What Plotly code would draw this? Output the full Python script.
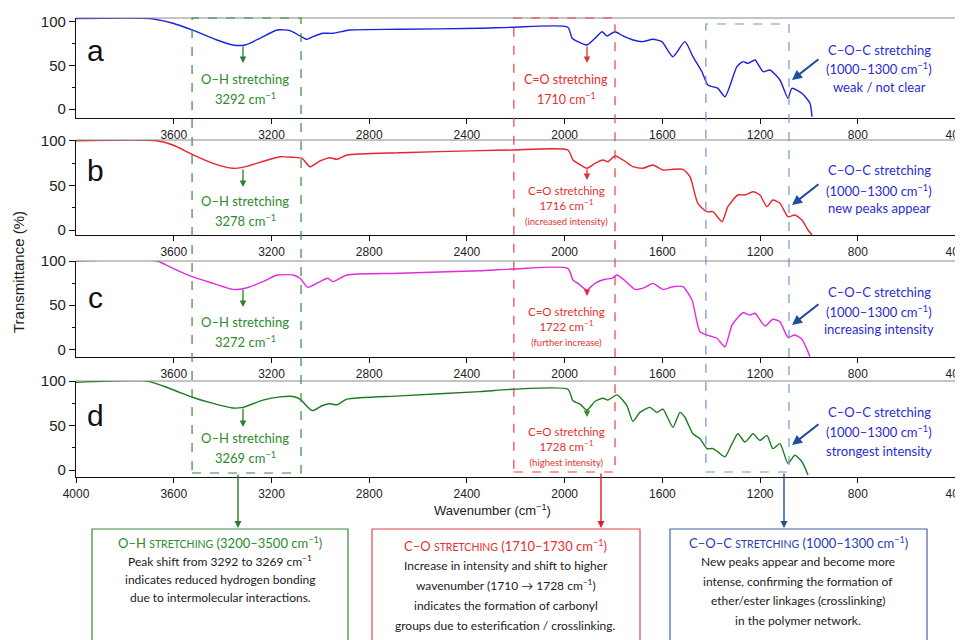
import plotly.graph_objects as go

W, H = 963, 640

# ---------------- data (wavenumber cm-1, transmittance %) ----------------
wn_a = [4000, 3697, 3603, 3525, 3423, 3358, 3308, 3247, 3177, 3124, 3083, 3055, 3030, 2989, 2948,
        2879, 2674, 2347, 2212, 1987, 1970, 1946, 1909, 1876, 1847, 1827, 1794, 1761, 1720, 1680,
        1639, 1602, 1557, 1508, 1475, 1438, 1414, 1373, 1344, 1295, 1270, 1250, 1221, 1188, 1160,
        1119, 1086, 1070, 1029, 996, 988]
t_a = [103.5, 103.5, 98.2, 90.5, 79.0, 73.3, 73.3, 81.0, 90.5, 89.7, 83.6, 79.8, 82.8, 86.7, 86.7,
       90.5, 91.3, 92.4, 93.6, 93.6, 81.3, 77.1, 73.3, 81.0, 88.5, 83.6, 88.5, 83.6, 79.0, 77.1,
       79.8, 77.1, 59.9, 77.1, 59.9, 42.7, 27.5, 23.7, 14.1, 48.5, 54.2, 52.3, 56.1, 42.7, 44.7,
       33.2, 12.3, 23.7, 18.0, 6.5, -8.8]

wn_b = [4000, 3669, 3603, 3525, 3439, 3358, 3317, 3247, 3165, 3112, 3075, 3042, 3001, 2961, 2932,
        2891, 2674, 2347, 2212, 1987, 1966, 1946, 1909, 1876, 1843, 1823, 1794, 1761, 1721, 1680,
        1639, 1598, 1557, 1516, 1487, 1455, 1418, 1393, 1356, 1332, 1291, 1262, 1229, 1201, 1172,
        1148, 1119, 1086, 1058, 1029, 1004, 988]
t_b = [100, 100, 95.2, 84.8, 74.7, 69.1, 70.2, 75.8, 82.1, 81.4, 80.3, 70.9, 77.3, 81.0, 79.2,
       84.0, 86.6, 88.9, 89.6, 89.6, 78.4, 74.7, 69.1, 74.7, 78.4, 76.5, 82.9, 78.4, 70.9, 69.1,
       72.8, 67.2, 68.0, 68.0, 59.7, 29.9, 20.5, 20.5, 9.3, 26.1, 39.2, 39.2, 42.9, 39.2, 26.1,
       33.6, 29.9, 14.9, 16.8, 11.2, 0.0, -5.5]

wn_c = [4000, 3669, 3603, 3525, 3439, 3358, 3308, 3235, 3177, 3112, 3083, 3051, 3010, 2969, 2948,
        2891, 2674, 2347, 2212, 1987, 1966, 1946, 1909, 1876, 1835, 1806, 1786, 1753, 1712, 1671,
        1639, 1598, 1557, 1516, 1479, 1446, 1405, 1377, 1344, 1315, 1270, 1242, 1221, 1180, 1148,
        1119, 1086, 1058, 1029, 996]
t_c = [100, 100, 91.7, 82.2, 74.7, 67.9, 69.1, 76.6, 84.1, 84.1, 80.4, 70.2, 75.4, 80.4, 76.6,
       84.1, 86.1, 89.0, 90.9, 91.7, 78.5, 74.7, 67.2, 74.7, 79.3, 80.4, 84.1, 77.7, 67.9, 70.2,
       74.7, 67.9, 70.9, 70.9, 55.8, 19.9, 15.1, 12.5, 2.9, 27.5, 41.4, 38.8, 40.8, 26.4, 34.0,
       31.3, 13.6, 16.2, 11.3, -8.4]

wn_d = [4000, 3709, 3644, 3574, 3521, 3439, 3358, 3317, 3235, 3165, 3112, 3083, 3034, 2993, 2961,
        2932, 2891, 2674, 2347, 2212, 1987, 1966, 1937, 1909, 1876, 1843, 1823, 1786, 1745, 1721,
        1692, 1651, 1622, 1598, 1557, 1528, 1508, 1475, 1446, 1418, 1393, 1373, 1344, 1315, 1291,
        1262, 1229, 1201, 1172, 1148, 1119, 1086, 1058, 1029, 1004]
t_d = [98.5, 100, 94.4, 87.0, 81.5, 74.8, 69.6, 70.4, 78.5, 82.2, 82.6, 79.6, 66.7, 72.2, 74.4,
       73.3, 79.6, 83.3, 88.1, 90.7, 90.7, 77.8, 74.1, 67.4, 77.0, 80.7, 78.5, 84.4, 72.2, 54.8,
       64.8, 70.4, 64.8, 68.5, 48.1, 64.8, 59.3, 40.7, 35.2, 24.1, 24.1, 20.4, 14.8, 29.6, 40.7,
       31.5, 40.7, 33.3, 38.9, 24.1, 29.6, 7.4, 16.7, 9.3, -5.6]

panel_letters = ["a", "b", "c", "d"]
oh_peaks = ["3292", "3278", "3272", "3269"]
co_peaks = ["1710", "1716", "1722", "1728"]
co_notes = ["", "(increased intensity)", "(further increase)", "(highest intensity)"]
coc_notes = ["weak / not clear", "new peaks appear", "increasing intensity", "strongest intensity"]
x_ticks = [4000, 3600, 3200, 2800, 2400, 2000, 1600, 1200, 800, 400]
y_ticks = [0, 50, 100]

# band regions (cm-1) of the dashed boxes
oh_region = (3525, 3079)
co_region = (2208, 1794)
coc_region = (1422, 1082)

# ---------------- styling ----------------
FT = "Lato, 'Open Sans', sans-serif"
FA = "'Liberation Sans', Arial, sans-serif"
LINE_COLORS = ["#1f1fe0", "#e8232b", "#e22be0", "#1f7a1f"]
GREEN_T = "#2d8a2d"
RED_T = "#e53030"
BLUE_T = "#2b2bd6"
DBLUE = "#1f4e9c"

OFF = 8  # page body margin offset (screen px)
TOPS = [18, 140, 261, 381]
BOTS = [118, 235, 357, 477]
YR = [[-10.3, 104.2], [-5.6, 100.8], [-8.7, 100], [-7.8, 100]]
XL = 76

def px(x):
    return (x - OFF) / W

def py(y):
    return 1 - (y - OFF) / H

series = [(wn_a, t_a), (wn_b, t_b), (wn_c, t_c), (wn_d, t_d)]

fig = go.Figure()
layout = {}
for i, (wn, t) in enumerate(series):
    sfx = "" if i == 0 else str(i + 1)
    fig.add_trace(go.Scatter(x=wn, y=t, mode="lines",
                             line=dict(color=LINE_COLORS[i], width=1.4, shape="spline", smoothing=0.6),
                             xaxis="x" + sfx, yaxis="y" + sfx, showlegend=False,
                             hoverinfo="skip"))
    layout["xaxis" + sfx] = dict(
        domain=[px(XL), 1], range=[4000, 337], anchor="y" + sfx, automargin=False,
        showline=True, linecolor="#111", linewidth=1.2, showgrid=False, zeroline=False,
        ticks="outside", ticklen=5, tickcolor="#111",
        tickvals=x_ticks if i == 3 else x_ticks[1:],
        tickfont=dict(family=FA, size=12, color="#222"))
    layout["yaxis" + sfx] = dict(
        domain=[py(BOTS[i]), py(TOPS[i])], range=YR[i], anchor="x" + sfx, automargin=False,
        showline=True, linecolor="#111", linewidth=1.2, showgrid=False, zeroline=False,
        ticks="outside", ticklen=6, tickcolor="#111", tickvals=y_ticks,
        minor=dict(tickvals=[25, 75], ticks="outside", ticklen=3, tickcolor="#111"),
        tickfont=dict(family=FA, size=15, color="#222"))

shapes = []
ann = []

# gray top borders
for i in range(4):
    shapes.append(dict(type="line", xref="paper", yref="paper", x0=px(XL), x1=1,
                       y0=py(TOPS[i]), y1=py(TOPS[i]), line=dict(color="#8a8a8a", width=1)))

# dashed band boxes
shapes.append(dict(type="rect", xref="x", yref="paper", x0=oh_region[0], x1=oh_region[1],
                   y0=py(473), y1=py(18), line=dict(color="#3a8a3a", width=1.2, dash="dash")))
shapes.append(dict(type="rect", xref="x", yref="paper", x0=co_region[0], x1=co_region[1],
                   y0=py(472), y1=py(18), line=dict(color="#e84040", width=1.2, dash="dash")))
shapes.append(dict(type="rect", xref="x", yref="paper", x0=coc_region[0], x1=coc_region[1],
                   y0=py(472), y1=py(24), line=dict(color="#6f95d6", width=1.2, dash="dash")))

# bottom info boxes
for (x0, x1, c) in [(92, 348, "#3a8a3a"), (372, 640, "#d84a4a"), (670, 927, "#4a62a8")]:
    shapes.append(dict(type="rect", xref="paper", yref="paper", x0=px(x0), x1=px(x1),
                       y0=py(720), y1=py(529), line=dict(color=c, width=1.2),
                       fillcolor="white"))


def txt(x, y, s, color, size, family=FT, **kw):
    d = dict(x=px(x), y=py(y), xref="paper", yref="paper", text=s, showarrow=False,
             font=dict(color=color, size=size, family=family),
             xanchor="center", yanchor="middle")
    d.update(kw)
    return d


def arrow(x0, y0, x1, y1, color, width=1.4, size=1.0):
    return dict(x=px(x1), y=py(y1), xref="paper", yref="paper", ax=x0 - x1, ay=y0 - y1,
                showarrow=True, arrowhead=2, arrowsize=size, arrowwidth=width,
                arrowcolor=color, text="", standoff=0)


SUP = " cm<sup>−1</sup>"
letter_y = [50, 171, 297, 415]
oh_y = [(79, 98), (201, 221), (322, 341), (438, 457)]
oh_arrow = [(45, 63), (168, 187), (288, 307), (407, 427)]
co_y = [88, 206, 326, 446]
co_arrow = [(45, 63), (168, 180), (289, 296), (409, 417)]
co_arrow_col = ["#e03030", "#e03030", "#e03030", "#2d8a2d"]
coc_y = [(50, 68, 87), (170, 190, 208), (292, 311, 329), (412, 431, 451)]
coc_arrow_y = [58, 183, 303, 423]

for i in range(4):
    ann.append(txt(95, letter_y[i], panel_letters[i], "#111", 30, FA))
    ann.append(txt(245, oh_y[i][0], "O–H stretching", GREEN_T, 13))
    ann.append(txt(245, oh_y[i][1], oh_peaks[i] + SUP, GREEN_T, 13))
    ann.append(arrow(243, oh_arrow[i][0], 243, oh_arrow[i][1], "#2d7d2d", 1.3))
    if co_notes[i]:
        co_text = ("C=O stretching<br>" + co_peaks[i] + SUP +
                   "<br><span style='font-size:9.5px'>" + co_notes[i] + "</span>")
        ann.append(txt(566, co_y[i], co_text, RED_T, 11.5))
    else:
        ann.append(txt(566, 79, "C=O stretching", RED_T, 12.5))
        ann.append(txt(566, 98, co_peaks[i] + SUP, RED_T, 12.5))
    ann.append(arrow(587, co_arrow[i][0], 587, co_arrow[i][1], co_arrow_col[i], 1.3))
    ann.append(txt(879, coc_y[i][0], "C–O–C stretching", BLUE_T, 13))
    ann.append(txt(879, coc_y[i][1], "(1000–1300" + SUP + ")", BLUE_T, 13))
    ann.append(txt(879, coc_y[i][2], coc_notes[i], BLUE_T, 13))
    ann.append(arrow(820, coc_arrow_y[i], 792, coc_arrow_y[i] + 22, DBLUE, 2))

# axis titles
ann.append(txt(18, 272, "Transmittance (%)", "#222", 15, FA, textangle=-90))
ann.append(txt(492, 510, "Wavenumber (cm<sup>−1</sup>)", "#222", 13, FA))

# arrows down to info boxes
ann.append(arrow(238, 473, 238, 528, "#2d7d2d", 1.4))
ann.append(arrow(601, 472, 601, 528, "#e02020", 1.4))
ann.append(arrow(784, 472, 784, 528, DBLUE, 1.4))

SC = "<span style='font-size:10.5px'>STRETCHING</span>"
# green info box
ann.append(txt(220, 542, "O–H " + SC + " (3200–3500" + SUP + ")", GREEN_T, 13))
for y, s in zip([561, 579, 597], ["Peak shift from 3292 to 3269" + SUP,
                                  "indicates reduced hydrogen bonding",
                                  "due to intermolecular interactions."]):
    ann.append(txt(220, y, s, "#1a1a1a", 12))
# red info box
ann.append(txt(506, 545, "C–O " + SC + " (1710–1730" + SUP + ")", RED_T, 13))
for y, s in zip([565, 585, 605, 625], ["Increase in intensity and shift to higher",
                                       "wavenumber (1710 → 1728" + SUP + ")",
                                       "indicates the formation of carbonyl",
                                       "groups due to esterification / crosslinking."]):
    ann.append(txt(506, y, s, "#1a1a1a", 12))
# blue info box
ann.append(txt(798, 542, "C–O–C " + SC + " (1000–1300" + SUP + ")", "#2b3bb0", 13))
for y, s in zip([561, 581, 600, 620], ["New peaks appear and become more",
                                       "intense, confirming the formation of",
                                       "ether/ester linkages (crosslinking)",
                                       "in the polymer network."]):
    ann.append(txt(798, y, s, "#1a1a1a", 12))

fig.update_layout(width=W, height=H, margin=dict(l=0, r=0, t=0, b=0),
                  paper_bgcolor="white", plot_bgcolor="white",
                  shapes=shapes, annotations=ann, **layout)

fig.write_html("out.html")
